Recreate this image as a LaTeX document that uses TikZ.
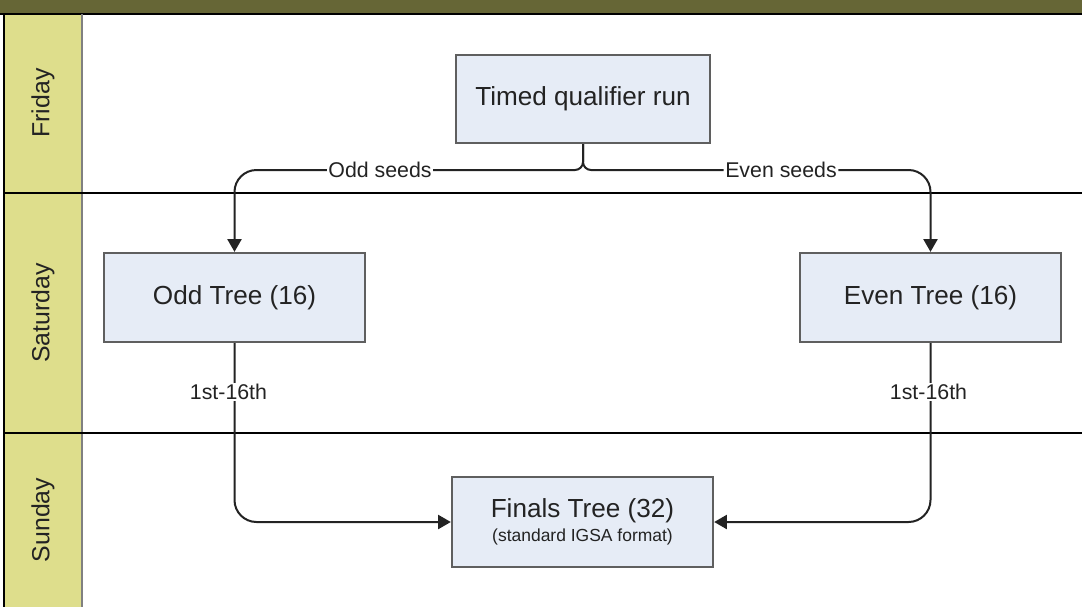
\documentclass[tikz,border=0pt]{standalone}
\usepackage{fontspec}
\setmainfont{Liberation Sans}
\usetikzlibrary{arrows.meta}
\definecolor{headolive}{RGB}{102,102,54}
\definecolor{lanefill}{RGB}{222,222,140}
\definecolor{boxfill}{RGB}{230,236,246}
\definecolor{boxline}{RGB}{95,95,95}
\definecolor{textgrey}{RGB}{35,35,35}
\begin{document}
\begin{tikzpicture}[x=0.75pt,y=-0.75pt,
    box/.style={draw=boxline, fill=boxfill, line width=1.5pt, minimum width=196pt, minimum height=67pt,
      font=\fontsize{19.6}{17.9}\selectfont, text=textgrey, align=center},
    lbl/.style={fill=white, inner sep=1pt, font=\fontsize{16}{19}\selectfont, text=textgrey},
    conn/.style={line width=1.5pt, draw=textgrey, -{Triangle[length=9.5pt,width=10.5pt]}},
    wire/.style={line width=1.5pt, draw=textgrey},
    lane/.style={rotate=90, font=\fontsize{18.6}{22}\selectfont, text=textgrey}]
	\useasboundingbox (0,0) rectangle (1082,607);
	% swimlane frame
	\fill[headolive] (0,0) rectangle (1082,14);
	\fill[lanefill] (4,14) rectangle (82,607);
	\draw[line width=1.5pt] (0,14) -- (1082,14);
	\draw[line width=1.2pt] (4,14) -- (4,607);
	\draw[line width=1pt, gray] (82,14) -- (82,607);
	\draw[line width=1pt] (4,193) -- (1082,193);
	\draw[line width=1pt] (4,433) -- (1082,433);
	\node[lane] (fri) at (43,103) {Friday};
	\node[lane] (sat) at (43,313) {Saturday};
	\node[lane] (sun) at (43,520) {Sunday};
	% steps
	\node[box, minimum width=190pt, minimum height=66pt] (timed) at (583,99) {Timed qualifier run};
	\node[box] (odd) at (234.5,297.5) {Odd Tree (16)};
	\node[box] (even) at (930.5,297.5) {Even Tree (16)};
	\node[box, minimum height=67.5pt] (finals) at (582.5,522) {Finals Tree (32)\\{\fontsize{13.1}{15}\selectfont (standard IGSA format)}};
	% seeds
	\node[lbl] (oddlbl) at (380,170) {Odd seeds};
	\node[lbl] (evenlbl) at (781,170) {Even seeds};
	\draw[wire, rounded corners=6pt] (timed.south) |- (oddlbl.east);
	\draw[wire, rounded corners=6pt] (timed.south) |- (evenlbl.west);
	\draw[conn, rounded corners=16.5pt] (oddlbl.west) -| (odd.north);
	\draw[conn, rounded corners=16.5pt] (evenlbl.east) -| (even.north);
	% qualifiers
	\draw[conn, rounded corners=16.5pt] (odd.south) |- (finals.west);
	\draw[conn, rounded corners=16.5pt] (even.south) |- (finals.east);
	\node[lbl] (oddq) at (228.5,392) {1st-16th};
	\node[lbl] (evenq) at (928.5,392) {1st-16th};
\end{tikzpicture}
\end{document}
